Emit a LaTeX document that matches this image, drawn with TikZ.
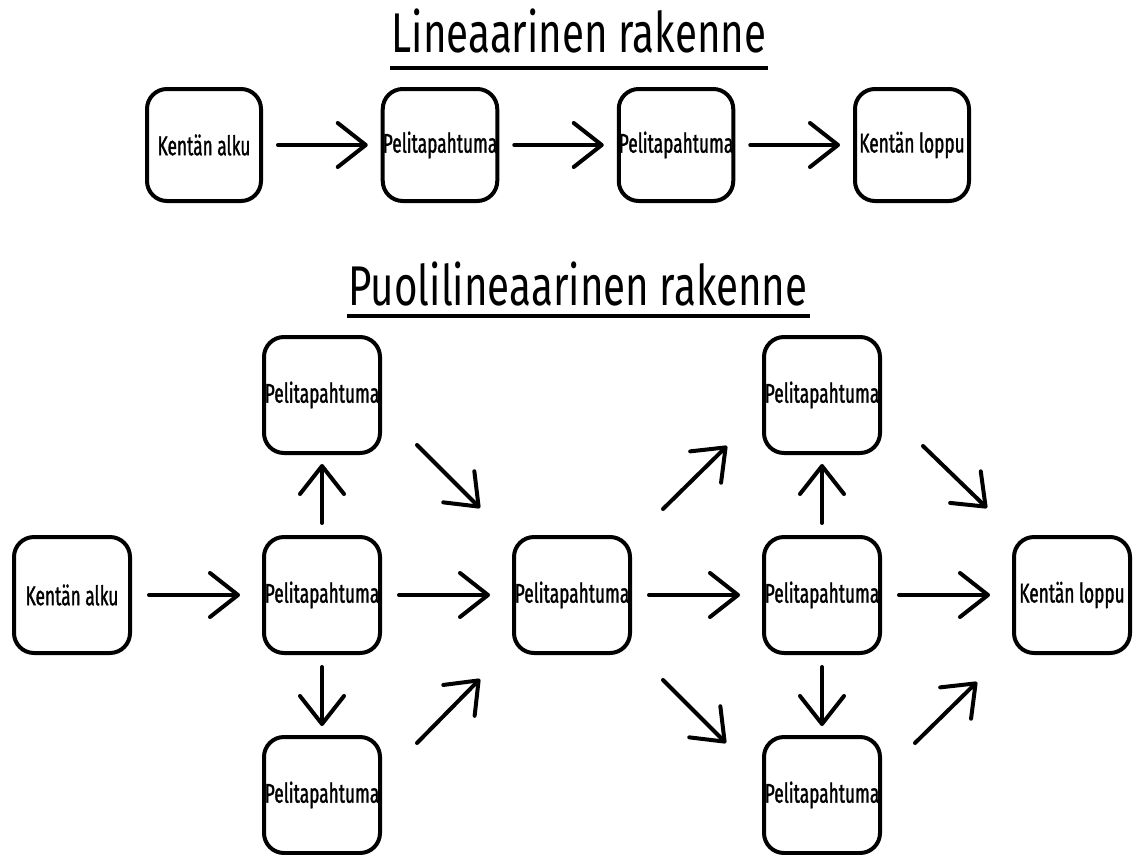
\documentclass[tikz,border=0pt]{standalone}
\usepackage{fontspec}
\newfontfamily\boxfont{Fira Sans}[FakeStretch=0.64,FakeBold=1.2]
\newfontfamily\titlefont{Fira Sans}[FakeStretch=0.72]
\usetikzlibrary{arrows.meta,positioning}

\begin{document}
\begin{tikzpicture}[x=1pt,y=1pt,>={Straight Barb[length=28pt,width=44pt,round]},line width=4pt,node distance=250pt,
  box/.style={draw,rectangle,rounded corners=20pt,minimum width=116pt,minimum height=116pt,inner sep=0pt,font=\boxfont\fontsize{27}{27}\selectfont},
  linbox/.style={box,minimum width=114pt,minimum height=112pt,node distance=236pt},
  title/.style={inner sep=0pt,anchor=base,font=\titlefont\fontsize{56}{56}\selectfont},
  arr/.style={->,line cap=round},
  toparr/.style={arr,shorten <=15pt,shorten >=13pt},
  sidearr/.style={arr,shorten <=17pt,shorten >=22pt},
  vertarr/.style={arr,shorten <=12pt,shorten >=9pt}]

\useasboundingbox (0,0) rectangle (1137,-854);

\node[title] (T1) at (579,-52) {Lineaarinen rakenne};
\draw ([yshift=-16pt]T1.base west) -- ([yshift=-16pt]T1.base east);

\node[linbox] (L1) at (204,-145) {Kentän alku};
\node[linbox] (L2) [right of=L1] {Pelitapahtuma};
\node[linbox] (L3) [right of=L2] {Pelitapahtuma};
\node[linbox] (L4) [right of=L3] {Kentän loppu};

\path
	(L1) edge[toparr] (L2)
	(L2) edge[toparr] (L3)
	(L3) edge[toparr] (L4);

\node[title] (T2) at (578,-305) {Puolilineaarinen rakenne};
\draw ([yshift=-11pt]T2.base west) -- ([yshift=-11pt]T2.base east);

\node[box] (P1) at (72,-595) {Kentän alku};
\node[box] (P2) [right of=P1] {Pelitapahtuma};
\node[box] (P3) [right of=P2] {Pelitapahtuma};
\node[box] (P4) [right of=P3] {Pelitapahtuma};
\node[box] (P5) [right of=P4] {Kentän loppu};

\node[box,node distance=200pt] (U2) [above of=P2] {Pelitapahtuma};
\node[box,node distance=200pt] (D2) [below of=P2] {Pelitapahtuma};
\node[box,node distance=200pt] (U4) [above of=P4] {Pelitapahtuma};
\node[box,node distance=200pt] (D4) [below of=P4] {Pelitapahtuma};

\path
	(P1) edge[sidearr] (P2)
	(P2) edge[sidearr] (P3)
	(P3) edge[sidearr] (P4)
	(P4) edge[sidearr] (P5);

\path
	(P2) edge[vertarr] (U2)
	(P2) edge[vertarr] (D2)
	(P4) edge[vertarr] (U4)
	(P4) edge[vertarr] (D4);

\draw[arr] ([shift={(35pt,10pt)}]U2.south east) -- ([shift={(-32pt,27pt)}]P3.north west);
\draw[arr] ([shift={(35pt,-8pt)}]D2.north east) -- ([shift={(-32pt,-24pt)}]P3.south west);
\draw[arr] ([shift={(31pt,26pt)}]P3.north east) -- ([shift={(-35pt,9pt)}]U4.south west);
\draw[arr] ([shift={(31pt,-25pt)}]P3.south east) -- ([shift={(-36pt,-8pt)}]D4.north west);
\draw[arr] ([shift={(41pt,9pt)}]U4.south east) -- ([shift={(-25pt,27pt)}]P5.north west);
\draw[arr] ([shift={(33pt,-8pt)}]D4.north east) -- ([shift={(-35pt,-27pt)}]P5.south west);

\end{tikzpicture}
\end{document}
